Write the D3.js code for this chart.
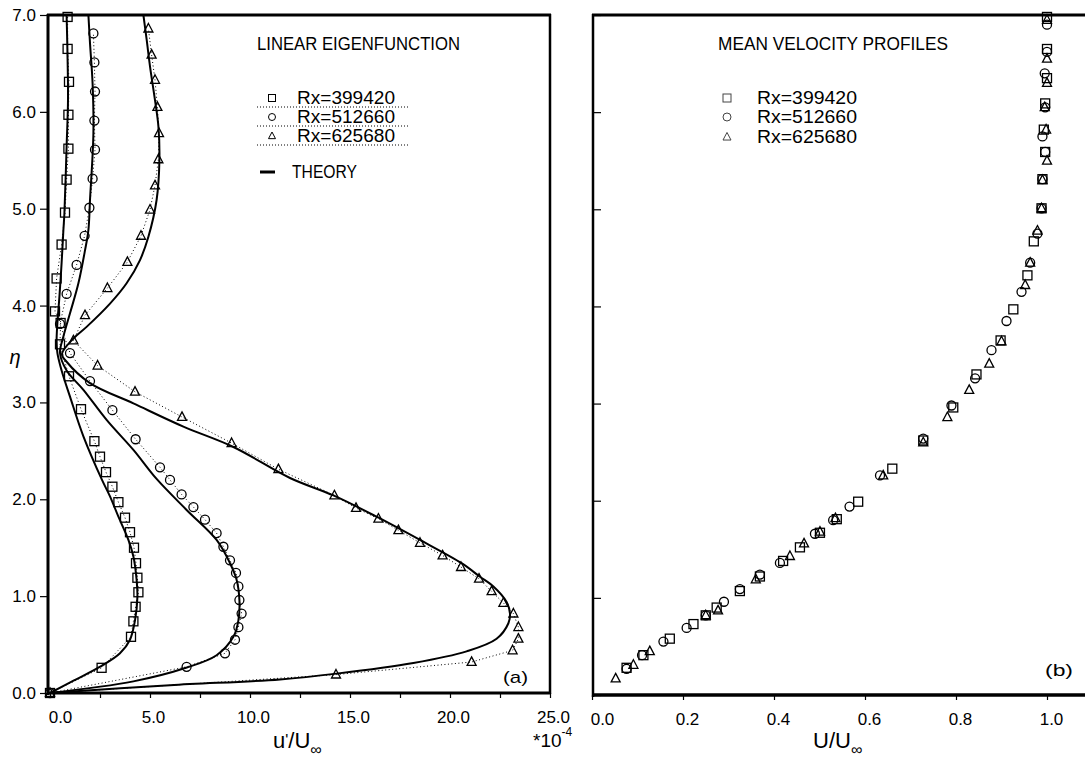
<!DOCTYPE html>
<html>
<head>
<meta charset="utf-8">
<script src="https://cdn.jsdelivr.net/npm/d3@7"></script>
<style>
  html, body { margin: 0; padding: 0; background: #fff; }
  svg { display: block; }
  text { font-family: "Liberation Sans", "DejaVu Sans", sans-serif; fill: #000; }
</style>
</head>
<body>
<svg id="chart" width="1085" height="763"></svg>
<script>
// ---------------- DATA ----------------
const seriesNames = ["Rx=399420", "Rx=512660", "Rx=625680"];
const seriesSymbols = ["square", "circle", "triangle"];

const etaTicks = [0, 1, 2, 3, 4, 5, 6, 7];
const uMajorTicks = [0, 5, 10, 15, 20, 25];
const uMinorTicks = [2.5, 7.5, 12.5, 17.5, 22.5];
const UTicks = [0, 0.2, 0.4, 0.6, 0.8, 1.0];

// Panel (a): measured u'/U_inf (x 1e-4) vs eta
const expSquare = [[0,0],[2.58,0.26],[4.05,0.58],[4.17,0.74],[4.28,0.89],[4.42,1.04],[4.37,1.19],[4.3,1.34],[4.2,1.50],[4.0,1.66],[3.75,1.81],[3.42,1.97],[3.12,2.13],[2.8,2.28],[2.5,2.44],[2.22,2.60],[1.55,2.93],[0.95,3.27],[0.5,3.60],[0.53,3.82],[0.25,3.94],[0.33,4.28],[0.58,4.63],[0.75,4.96],[0.83,5.30],[0.92,5.62],[0.92,5.97],[0.95,6.31],[0.88,6.65],[0.88,6.98]];
const expCircle = [[0,0],[6.83,0.27],[8.75,0.41],[9.25,0.55],[9.42,0.68],[9.58,0.82],[9.47,0.96],[9.42,1.10],[9.3,1.24],[9.0,1.37],[8.67,1.51],[8.33,1.65],[7.75,1.79],[7.17,1.92],[6.58,2.05],[6.0,2.20],[5.5,2.33],[4.28,2.62],[3.12,2.92],[2.0,3.22],[1.0,3.51],[0.5,3.81],[0.83,4.12],[1.33,4.42],[1.73,4.72],[1.97,5.01],[2.13,5.31],[2.25,5.61],[2.22,5.91],[2.25,6.21],[2.22,6.51],[2.17,6.81]];
const expTriangle = [[0,0],[14.3,0.19],[21.08,0.32],[23.13,0.44],[23.42,0.56],[23.42,0.68],[23.17,0.82],[22.67,0.93],[22.08,1.05],[21.45,1.18],[20.55,1.30],[19.63,1.42],[18.5,1.55],[17.42,1.68],[16.42,1.80],[15.3,1.91],[14.22,2.04],[11.42,2.31],[9.08,2.58],[6.6,2.85],[4.25,3.11],[2.38,3.38],[1.17,3.64],[1.75,3.90],[2.87,4.18],[3.87,4.45],[4.55,4.72],[5.0,4.99],[5.25,5.24],[5.42,5.51],[5.45,5.78],[5.37,6.05],[5.25,6.33],[5.08,6.59],[4.92,6.86]];

// Panel (a): theory curves
const theorySquare = [[0,0],[1.2,0.13],[2.58,0.28],[3.5,0.41],[4.0,0.55],[4.25,0.75],[4.37,0.99],[4.33,1.17],[4.17,1.41],[3.92,1.58],[3.42,1.82],[3.0,2.03],[2.6,2.2],[1.67,2.65],[1.0,3.06],[0.58,3.33],[0.37,3.51],[0.33,3.64],[0.37,3.82],[0.47,4.09],[0.58,4.44],[0.67,4.78],[0.72,4.95],[0.83,5.64],[0.9,6.12],[0.87,6.64],[0.83,7.0]];
const theoryCircle = [[0,0],[4.17,0.12],[6.8,0.26],[8.33,0.39],[9.17,0.58],[9.42,0.75],[9.47,0.96],[9.33,1.17],[9.0,1.34],[8.33,1.58],[6.83,1.89],[5.33,2.21],[4.17,2.51],[2.83,2.82],[1.67,3.13],[0.83,3.33],[0.5,3.51],[0.67,3.68],[1.0,3.92],[1.42,4.23],[1.75,4.57],[1.92,4.78],[2.0,5.09],[2.17,5.78],[2.13,6.29],[2.0,6.71],[1.92,7.0]];
const theoryTriangle = [[0,0],[6,0.08],[11.5,0.14],[14.33,0.20],[18.17,0.31],[20.83,0.43],[22.33,0.56],[22.92,0.72],[23.0,0.82],[22.83,0.94],[22.17,1.10],[21.5,1.20],[20.58,1.34],[18.5,1.58],[16.33,1.82],[14.17,2.04],[12.0,2.22],[9.17,2.54],[6.67,2.75],[4.17,2.99],[2.0,3.20],[0.83,3.42],[0.6,3.5],[1.17,3.66],[1.83,3.78],[3.0,4.02],[3.83,4.23],[4.5,4.47],[4.92,4.71],[5.33,5.09],[5.47,5.50],[5.42,5.85],[5.25,6.12],[5.0,6.47],[4.83,6.75],[4.67,7.0]];

// Panel (b): mean velocity U/U_inf vs eta
const meanSquare = [[0.076,0.28],[0.113,0.41],[0.171,0.58],[0.223,0.73],[0.25,0.82],[0.274,0.90],[0.325,1.07],[0.369,1.22],[0.42,1.38],[0.457,1.52],[0.501,1.67],[0.538,1.81],[0.585,1.99],[0.66,2.33],[0.728,2.62],[0.794,2.96],[0.845,3.30],[0.898,3.65],[0.926,3.97],[0.957,4.32],[0.971,4.67],[0.988,5.01],[0.99,5.31],[0.996,5.59],[0.993,5.82],[0.996,6.09],[1.0,6.35],[1.0,6.65],[1.0,6.98]];
const meanCircle = [[0.076,0.27],[0.11,0.41],[0.157,0.55],[0.208,0.69],[0.25,0.82],[0.29,0.96],[0.325,1.09],[0.369,1.24],[0.413,1.36],[0.49,1.66],[0.53,1.80],[0.566,1.94],[0.633,2.26],[0.728,2.64],[0.79,2.98],[0.842,3.26],[0.878,3.55],[0.911,3.85],[0.944,4.15],[0.963,4.45],[0.979,4.75],[0.988,5.01],[0.99,5.31],[0.996,5.59],[0.99,5.75],[0.996,6.05],[0.995,6.40],[1.0,6.62],[1.0,6.9]];
const meanTriangle = [[0.052,0.17],[0.091,0.31],[0.127,0.45],[0.25,0.82],[0.277,0.87],[0.36,1.19],[0.435,1.43],[0.466,1.56],[0.501,1.68],[0.535,1.82],[0.64,2.26],[0.728,2.60],[0.781,2.86],[0.829,3.14],[0.873,3.41],[0.9,3.64],[0.952,4.22],[0.963,4.45],[0.979,4.78],[0.988,5.01],[0.99,5.30],[1.0,5.50],[0.998,5.82],[0.995,6.05],[1.0,6.30],[1.0,6.55],[1.0,6.95]];

// ---------------- DRAW ----------------
const svg = d3.select("#chart");
svg.append("rect").attr("width", 1085).attr("height", 763).attr("fill", "#fff");

const xL = d3.scaleLinear().domain([0, 25]).range([50, 550]);
const yL = d3.scaleLinear().domain([0, 7]).range([693, 15]);
const xR = d3.scaleLinear().domain([0, 1]).range([592, 1047]);
const yR = d3.scaleLinear().domain([0, 7]).range([695, 15]);

function marker(g, type, x, y, s, sw, color) {
  color = color || "#000";
  if (type === "square") {
    g.append("rect").attr("x", x - s / 2).attr("y", y - s / 2).attr("width", s).attr("height", s)
      .attr("fill", "none").attr("stroke", color).attr("stroke-width", sw);
  } else if (type === "circle") {
    g.append("circle").attr("cx", x).attr("cy", y).attr("r", s / 2)
      .attr("fill", "none").attr("stroke", color).attr("stroke-width", sw);
  } else {
    const h = s * 0.95;
    g.append("path").attr("d", `M${x},${y - h * 0.6} L${x + s / 2},${y + h * 0.4} L${x - s / 2},${y + h * 0.4} Z`)
      .attr("fill", "none").attr("stroke", color).attr("stroke-width", sw);
  }
}

// ----- Panel (a) -----
const gA = svg.append("g");

// axes
const axL = gA.append("g").attr("transform", "translate(48,0)")
  .call(d3.axisLeft(yL).tickValues(etaTicks).tickFormat(d3.format(".1f")).tickSize(8).tickPadding(4));
const axB = gA.append("g").attr("transform", "translate(0,693)")
  .call(d3.axisBottom(xL).tickValues(uMajorTicks.concat(uMinorTicks))
    .tickFormat(d => uMajorTicks.includes(d) ? d3.format(".1f")(d) : "").tickSize(5).tickPadding(13));
[axL, axB].forEach(a => {
  a.select(".domain").remove();
  a.selectAll("line").attr("stroke", "#000").attr("stroke-width", 1.2);
  a.selectAll("text").attr("font-size", 17).attr("font-family", "Liberation Sans, DejaVu Sans, sans-serif");
});
axB.selectAll("text").attr("dx", d => d === 0 ? 10 : 3);

// frame
gA.append("line").attr("x1", 48).attr("x2", 48).attr("y1", 14).attr("y2", 695).attr("stroke", "#000").attr("stroke-width", 3);
gA.append("line").attr("x1", 47).attr("x2", 551).attr("y1", 15).attr("y2", 15).attr("stroke", "#000").attr("stroke-width", 3);
gA.append("line").attr("x1", 550).attr("x2", 550).attr("y1", 14).attr("y2", 694).attr("stroke", "#000").attr("stroke-width", 2.5);
gA.append("line").attr("x1", 47).attr("x2", 551).attr("y1", 693).attr("y2", 693).attr("stroke", "#000").attr("stroke-width", 3);

const lineL = d3.line().x(d => xL(d[0])).y(d => yL(d[1]));
const smoothL = d3.line().x(d => xL(d[0])).y(d => yL(d[1])).curve(d3.curveCatmullRom.alpha(0.5));

const expSets = [expSquare, expCircle, expTriangle];
const theorySets = [theorySquare, theoryCircle, theoryTriangle];

// dotted connections
expSets.forEach(s => {
  gA.append("path").attr("d", lineL(s)).attr("fill", "none").attr("stroke", "#000")
    .attr("stroke-width", 1).attr("stroke-dasharray", "1,2.5");
});
// theory curves
theorySets.forEach(s => {
  gA.append("path").attr("d", smoothL(s)).attr("fill", "none").attr("stroke", "#000")
    .attr("stroke-width", 2);
});
// markers
expSets.forEach((s, i) => {
  s.forEach(d => marker(gA, seriesSymbols[i], xL(d[0]), yL(d[1]), 9, 1.3));
});

// texts panel (a)
gA.append("text").attr("x", 257).attr("y", 44).attr("dominant-baseline", "central")
  .attr("font-size", 18).attr("textLength", 203).attr("lengthAdjust", "spacingAndGlyphs").text("LINEAR EIGENFUNCTION");
const legYA = [98, 117, 136];
seriesNames.forEach((n, i) => {
  marker(gA, seriesSymbols[i], 272, legYA[i], 7, 1);
  gA.append("text").attr("x", 297).attr("y", legYA[i]).attr("dominant-baseline", "central")
    .attr("font-size", 18).attr("textLength", 98).attr("lengthAdjust", "spacingAndGlyphs").text(n);
  gA.append("line").attr("x1", 257).attr("x2", 410).attr("y1", legYA[i] + 9).attr("y2", legYA[i] + 9)
    .attr("stroke", "#000").attr("stroke-width", 1).attr("stroke-dasharray", "1,2");
});
gA.append("line").attr("x1", 260).attr("x2", 275).attr("y1", 172).attr("y2", 172).attr("stroke", "#000").attr("stroke-width", 3);
gA.append("text").attr("x", 292).attr("y", 172).attr("dominant-baseline", "central")
  .attr("font-size", 18).attr("textLength", 65).attr("lengthAdjust", "spacingAndGlyphs").text("THEORY");
gA.append("text").attr("x", 503).attr("y", 677).attr("dominant-baseline", "central")
  .attr("font-size", 17).attr("font-family", "DejaVu Sans Mono, monospace").attr("textLength", 25).attr("lengthAdjust", "spacingAndGlyphs").text("(a)");
gA.append("text").attr("x", 15).attr("y", 357).attr("dominant-baseline", "central").attr("text-anchor", "middle")
  .attr("font-size", 20).attr("font-style", "italic").attr("font-family", "DejaVu Serif, serif").text("η");
const tA = gA.append("text").attr("x", 273).attr("y", 748).attr("font-size", 22);
tA.append("tspan").text("u");
tA.append("tspan").attr("dy", -2).attr("font-size", 16).text("'");
tA.append("tspan").attr("dy", 2).text("/U");
tA.append("tspan").attr("dy", 7).attr("font-size", 16).text("∞");
const tE = gA.append("text").attr("x", 533).attr("y", 747).attr("font-size", 19);
tE.append("tspan").text("*10");
tE.append("tspan").attr("dy", -11).attr("font-size", 12).text("-4");

// ----- Panel (b) -----
const gB = svg.append("g");
const axRL = gB.append("g").attr("transform", "translate(593,0)")
  .call(d3.axisRight(yR).tickValues(etaTicks).tickFormat("").tickSize(8));
const axRB = gB.append("g").attr("transform", "translate(0,695)")
  .call(d3.axisBottom(xR).tickValues(UTicks).tickFormat(d3.format(".1f")).tickSize(5).tickPadding(13));
[axRL, axRB].forEach(a => {
  a.select(".domain").remove();
  a.selectAll("line").attr("stroke", "#000").attr("stroke-width", 1.2);
  a.selectAll("text").attr("font-size", 17).attr("font-family", "Liberation Sans, DejaVu Sans, sans-serif");
});
axRB.selectAll("text").attr("dx", d => d === 0 ? 10 : 4);

gB.append("line").attr("x1", 593).attr("x2", 593).attr("y1", 14).attr("y2", 697).attr("stroke", "#000").attr("stroke-width", 2.5);
gB.append("line").attr("x1", 592).attr("x2", 1085).attr("y1", 15).attr("y2", 15).attr("stroke", "#000").attr("stroke-width", 3);
gB.append("line").attr("x1", 592).attr("x2", 1085).attr("y1", 695).attr("y2", 695).attr("stroke", "#000").attr("stroke-width", 3.5);

const meanSets = [meanSquare, meanCircle, meanTriangle];
meanSets.forEach((s, i) => {
  s.forEach(d => marker(gB, seriesSymbols[i], xR(d[0]), yR(d[1]), 9, 1.3));
});

gB.append("text").attr("x", 718).attr("y", 44).attr("dominant-baseline", "central")
  .attr("font-size", 18).attr("textLength", 230).attr("lengthAdjust", "spacingAndGlyphs").text("MEAN VELOCITY PROFILES");
const legYB = [98, 117, 137];
seriesNames.forEach((n, i) => {
  marker(gB, seriesSymbols[i], 727, legYB[i], 8, 1, "#444");
  gB.append("text").attr("x", 757).attr("y", legYB[i]).attr("dominant-baseline", "central")
    .attr("font-size", 18).attr("textLength", 100).attr("lengthAdjust", "spacingAndGlyphs").text(n);
});
gB.append("text").attr("x", 1045).attr("y", 670).attr("dominant-baseline", "central")
  .attr("font-size", 17).attr("font-family", "DejaVu Sans Mono, monospace").attr("textLength", 28).attr("lengthAdjust", "spacingAndGlyphs").text("(b)");
const tB = gB.append("text").attr("x", 813).attr("y", 748).attr("font-size", 22);
tB.append("tspan").text("U/U");
tB.append("tspan").attr("dy", 7).attr("font-size", 16).text("∞");
</script>
</body>
</html>
